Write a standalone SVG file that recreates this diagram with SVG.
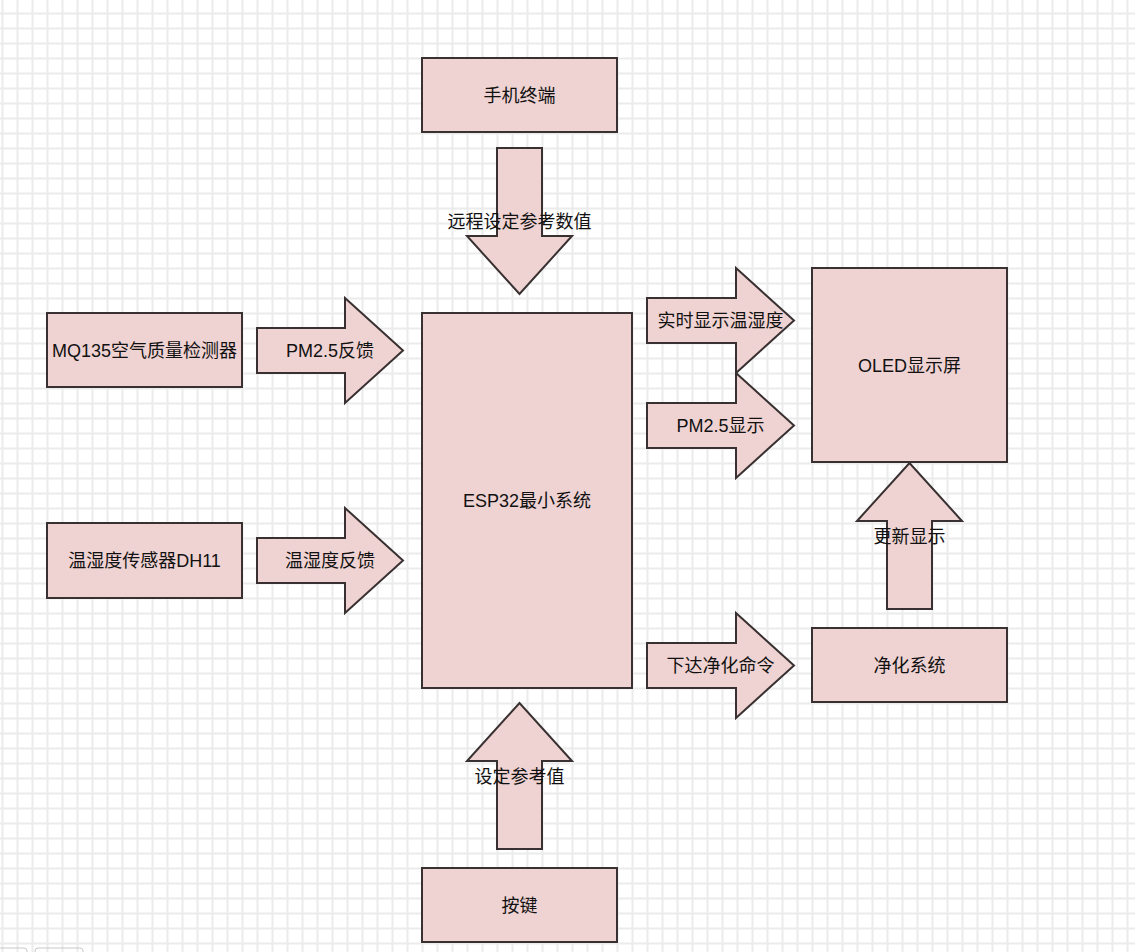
<svg xmlns="http://www.w3.org/2000/svg" width="1135" height="952" viewBox="0 0 1135 952">
  <defs>
    <pattern id="grid" x="1.5" y="12.5" width="15" height="15" patternUnits="userSpaceOnUse">
      <path d="M1 0 V15 M0 1 H15" stroke="#ebebeb" stroke-width="2" fill="none"/>
    </pattern>
    <style>
      .box { fill: #efd3d2; stroke: #393131; stroke-width: 2; }
      .arr { fill: #efd3d2; stroke: #393131; stroke-width: 2; stroke-linejoin: miter; }
      .lbl { font-family: "Liberation Sans", "Noto Sans CJK SC", sans-serif; font-size: 18px; fill: #111; text-anchor: middle; dominant-baseline: central; }
      .ui { fill: none; stroke: #c8c8c8; stroke-width: 1; }
    </style>
  </defs>
  <rect x="0" y="0" width="1135" height="952" fill="#ffffff"/>
  <rect x="0" y="0" width="1135" height="952" fill="url(#grid)"/>

  <g id="connectors">
    <g id="arrow-remote">
      <polygon class="arr" points="497,148 542,148 542,236 572,236 519.5,294 467,236 497,236"/>
      <text class="lbl" x="519.5" y="222">远程设定参考数值</text>
    </g>
    <g id="arrow-pm25-feedback">
      <polygon class="arr" points="257,328 345,328 345,298 403,350.5 345,403 345,373 257,373"/>
      <text class="lbl" x="330" y="351">PM2.5反馈</text>
    </g>
    <g id="arrow-th-feedback">
      <polygon class="arr" points="257,538 345,538 345,508 403,560.5 345,613 345,583 257,583"/>
      <text class="lbl" x="330" y="561">温湿度反馈</text>
    </g>
    <g id="arrow-realtime">
      <polygon class="arr" points="647,298 736,298 736,268 794,320.5 736,373 736,343 647,343"/>
      <text class="lbl" x="720.5" y="321">实时显示温湿度</text>
    </g>
    <g id="arrow-pm25-display">
      <polygon class="arr" points="647,403 736,403 736,373 794,425.5 736,478 736,448 647,448"/>
      <text class="lbl" x="720.5" y="426">PM2.5显示</text>
    </g>
    <g id="arrow-purify-cmd">
      <polygon class="arr" points="647,643 736,643 736,613 794,665.5 736,718 736,688 647,688"/>
      <text class="lbl" x="720.5" y="666">下达净化命令</text>
    </g>
    <g id="arrow-update">
      <polygon class="arr" points="887,609 932,609 932,521 962,521 909.5,463 857,521 887,521"/>
      <text class="lbl" x="909.5" y="537">更新显示</text>
    </g>
    <g id="arrow-key">
      <polygon class="arr" points="497,849 542,849 542,761 572,761 519.5,703 467,761 497,761"/>
      <text class="lbl" x="519.5" y="777">设定参考值</text>
    </g>
  </g>

  <g id="node-phone">
    <rect class="box" x="422" y="58" width="195" height="74"/>
    <text class="lbl" x="519.5" y="96">手机终端</text>
  </g>
  <g id="node-esp32">
    <rect class="box" x="422" y="313" width="210" height="375"/>
    <text class="lbl" x="527" y="501">ESP32最小系统</text>
  </g>
  <g id="node-mq135">
    <rect class="box" x="47" y="313" width="195" height="74"/>
    <text class="lbl" x="144.5" y="351">MQ135空气质量检测器</text>
  </g>
  <g id="node-dh11">
    <rect class="box" x="47" y="523" width="195" height="75"/>
    <text class="lbl" x="144.5" y="561">温湿度传感器DH11</text>
  </g>
  <g id="node-oled">
    <rect class="box" x="812" y="268" width="195" height="194"/>
    <text class="lbl" x="909.5" y="366">OLED显示屏</text>
  </g>
  <g id="node-purifier">
    <rect class="box" x="812" y="628" width="195" height="74"/>
    <text class="lbl" x="909.5" y="666">净化系统</text>
  </g>
  <g id="node-key">
    <rect class="box" x="422" y="868" width="195" height="74"/>
    <text class="lbl" x="519.5" y="906">按键</text>
  </g>

  <g id="ui-tabs">
    <rect class="ui" x="-4" y="948" width="31" height="10" rx="3"/>
    <rect class="ui" x="35" y="948" width="48" height="10" rx="3"/>
  </g>
</svg>
